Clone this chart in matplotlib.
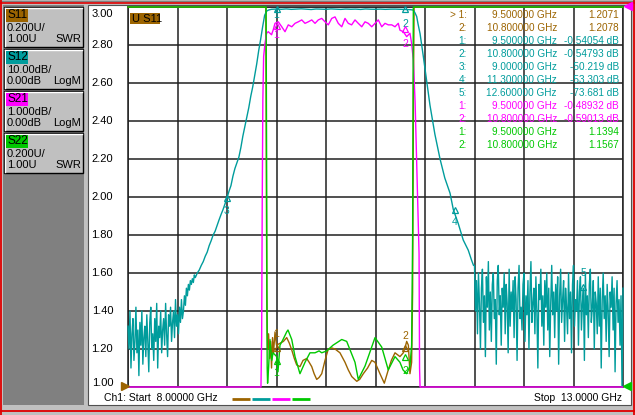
import numpy as np
import matplotlib
matplotlib.use('Agg')
import matplotlib.pyplot as plt
from matplotlib.patches import Rectangle
from matplotlib.lines import Line2D

plt.rcParams['font.family'] = ['Liberation Sans', 'DejaVu Sans']

# ---------------- data ----------------
F_START, F_STOP = 8.0, 13.0
grid_x = [8.0, 8.5, 9.0, 9.5, 10.0, 10.5, 11.0, 11.5, 12.0, 12.5, 13.0]
y_ticks = [3.00, 2.80, 2.60, 2.40, 2.20, 2.00, 1.80, 1.60, 1.40, 1.20, 1.00]

# S11 (SWR) : (GHz, SWR)   values above 3.00 are off-screen (clipped)
s11_points = [(8.00, 20), (9.385, 20), (9.392, 3.2), (9.398, 2.0), (9.402, 1.5), (9.406, 1.3),
              (9.41, 1.2), (9.42, 1.28), (9.43, 1.15), (9.44, 1.24), (9.45, 1.10), (9.46, 1.26),
              (9.47, 1.18), (9.485, 1.29), (9.50, 1.22), (9.535, 1.23), (9.57, 1.24), (9.603, 1.26),
              (9.63, 1.23), (9.654, 1.195), (9.68, 1.15), (9.704, 1.116), (9.737, 1.107), (9.768, 1.14),
              (9.805, 1.15), (9.83, 1.13), (9.856, 1.107), (9.88, 1.07), (9.906, 1.04), (9.93, 1.05),
              (9.957, 1.07), (9.990, 1.14), (10.023, 1.20), (10.06, 1.205), (10.091, 1.20), (10.141, 1.18),
              (10.192, 1.13), (10.225, 1.09), (10.26, 1.055), (10.29, 1.04), (10.311, 1.03), (10.34, 1.04),
              (10.377, 1.07), (10.42, 1.10), (10.462, 1.14), (10.495, 1.13), (10.545, 1.07), (10.589, 1.02),
              (10.629, 1.09), (10.66, 1.14), (10.697, 1.18), (10.747, 1.16), (10.781, 1.18), (10.80, 1.21),
              (10.815, 1.24), (10.832, 1.22), (10.848, 1.07), (10.865, 1.13), (10.875, 1.5), (10.884, 2.6),
              (10.89, 20), (13.00, 20)]

# S22 (SWR)
s22_points = [(8.00, 20), (9.385, 20), (9.395, 3.1), (9.400, 2.2), (9.403, 1.5), (9.406, 1.1),
              (9.41, 1.02), (9.42, 1.1), (9.434, 1.25), (9.452, 1.14), (9.465, 1.18), (9.502, 1.16),
              (9.515, 1.08), (9.535, 1.22), (9.566, 1.25), (9.603, 1.29), (9.616, 1.30), (9.654, 1.25),
              (9.687, 1.16), (9.737, 1.07), (9.788, 1.13), (9.838, 1.18), (9.889, 1.18), (9.93, 1.19),
              (9.957, 1.18), (10.007, 1.19), (10.071, 1.22), (10.159, 1.25), (10.209, 1.24), (10.293, 1.13),
              (10.326, 1.04), (10.394, 1.11), (10.495, 1.26), (10.563, 1.21), (10.629, 1.09), (10.697, 1.16),
              (10.747, 1.13), (10.778, 1.09), (10.815, 1.07), (10.848, 1.11), (10.865, 1.22), (10.875, 1.8),
              (10.882, 3.3), (10.89, 20), (13.00, 20)]

# S21 (LogM dB)
s21_points = [(8.00, -40), (9.33, -40), (9.343, -12), (9.35, -8.7), (9.356, -5.1), (9.362, -2.45),
              (9.37, -1.3), (9.384, -0.95), (9.40, -0.69), (9.417, -0.65), (9.45, -0.73), (9.467, -0.6),
              (9.485, -0.43), (9.518, -0.39), (9.553, -0.52), (9.586, -0.65), (9.619, -0.47), (9.654, -0.52),
              (9.687, -0.43), (9.720, -0.39), (9.755, -0.34), (9.788, -0.43), (9.821, -0.39), (9.856, -0.34),
              (9.889, -0.43), (9.922, -0.34), (9.957, -0.30), (9.990, -0.39), (10.023, -0.47), (10.058, -0.30),
              (10.091, -0.26), (10.124, -0.43), (10.159, -0.52), (10.192, -0.30), (10.225, -0.43), (10.259, -0.47),
              (10.293, -0.34), (10.326, -0.43), (10.361, -0.52), (10.394, -0.39), (10.427, -0.43), (10.462, -0.52),
              (10.495, -0.43), (10.528, -0.34), (10.563, -0.52), (10.596, -0.43), (10.629, -0.47), (10.664, -0.47),
              (10.697, -0.52), (10.730, -0.43), (10.747, -0.61), (10.781, -0.65), (10.815, -0.78), (10.848, -0.69),
              (10.865, -0.96), (10.882, -1.39), (10.90, -2.5), (10.92, -4.5), (10.94, -6.5), (10.945, -9.5),
              (10.95, -12), (10.96, -40), (13.00, -40)]

# S12 (LogM dB): low-side noise floor, 8.00 .. 8.55 GHz in 0.01 GHz steps
s12_noise_lo_db = [-84, -90, -80, -95, -86, -82, -93, -88, -79, -91,
                   -85, -97, -83, -89, -80, -94, -87, -84, -92, -81,
                   -88, -96, -83, -79, -90, -86, -93, -82, -88, -78,
                   -95, -84, -87, -80, -91, -85, -82, -89, -78, -86,
                   -92, -81, -84, -79, -88, -83, -80, -87, -77, -84,
                   -81, -86, -79, -83, -77, -82]
s12_skirt_lo = [(8.56, -80), (8.57, -76), (8.58, -78.5), (8.59, -74), (8.60, -76), (8.61, -73),
                (8.62, -74.5), (8.63, -72), (8.64, -73), (8.65, -71.5), (8.66, -72.5), (8.67, -70.5),
                (8.68, -71.2), (8.70, -70), (8.72, -69.2), (8.74, -68), (8.76, -67), (8.78, -65.6),
                (8.80, -64.5), (8.82, -62.8), (8.84, -61.5), (8.86, -60), (8.88, -59), (8.90, -57.5),
                (8.92, -56), (8.94, -54.6), (8.96, -53.3), (8.98, -51.8), (9.00, -50.2), (9.02, -48.5),
                (9.04, -47), (9.06, -44.5), (9.08, -42.5), (9.10, -41), (9.12, -39.5), (9.14, -37),
                (9.16, -34), (9.18, -31.5), (9.20, -29), (9.22, -26.5), (9.24, -23.5), (9.26, -21),
                (9.28, -18), (9.30, -15), (9.32, -11.5), (9.34, -8.5), (9.36, -5.2), (9.38, -2.2),
                (9.40, -1.1), (9.42, -0.8), (9.45, -0.6)]
# passband, 9.50 .. 10.85 GHz in 0.05 GHz steps
s12_band_db = [-0.54, -0.60, -0.50, -0.62, -0.55, -0.48, -0.58, -0.66, -0.52, -0.57,
               -0.61, -0.50, -0.56, -0.63, -0.53, -0.59, -0.55, -0.64, -0.51, -0.58,
               -0.60, -0.55, -0.62, -0.56, -0.55, -0.60, -0.65, -0.70]
s12_skirt_hi = [(10.882, -0.8), (10.90, -1.6), (10.916, -2.5), (10.93, -4.5), (10.95, -7), (10.983, -13),
                (11.02, -20), (11.05, -25.8), (11.10, -33.5), (11.152, -40), (11.20, -45), (11.253, -49),
                (11.286, -53.3), (11.336, -57), (11.386, -61.3), (11.437, -64), (11.47, -66.6), (11.49, -68)]
# high-side noise floor, 11.50 .. 13.00 GHz in 0.01 GHz steps
s12_noise_hi_db = [-68, -80, -72, -86, -70, -78, -90, -74, -69, -83,
                   -76, -92, -71, -79, -67, -85, -75, -88, -73, -70,
                   -82, -77, -94, -72, -68, -81, -76, -89, -74, -79,
                   -70, -86, -73, -78, -91, -69, -84, -75, -80, -72,
                   -87, -71, -77, -93, -74, -68, -82, -79, -85, -73,
                   -70, -88, -76, -81, -72, -90, -75, -67, -83, -78,
                   -74, -86, -71, -80, -95, -73, -77, -69, -84, -76,
                   -89, -72, -79, -70, -85, -74, -92, -78, -68, -81,
                   -75, -87, -73, -80, -71, -94, -76, -69, -83, -77,
                   -72, -88, -74, -79, -86, -70, -82, -75, -91, -73,
                   -68, -84, -77, -80, -72, -89, -75, -71, -85, -78,
                   -74, -93, -70, -81, -76, -87, -73, -69, -83, -79,
                   -72, -90, -75, -78, -86, -71, -84, -74, -95, -77,
                   -70, -82, -76, -88, -73, -80, -92, -75, -79, -71,
                   -85, -74, -96, -78, -72, -83, -77, -89, -76, -100,
                   -74]

# marker readouts
mk_s11 = [("1", 9.5, 1.2071), ("2", 10.8, 1.2078)]
mk_s12 = [("1", 9.5, -0.54054), ("2", 10.8, -0.54793), ("3", 9.0, -50.219),
          ("4", 11.3, -53.303), ("5", 12.6, -73.681)]
mk_s21 = [("1", 9.5, -0.48932), ("2", 10.8, -0.59013)]
mk_s22 = [("1", 9.5, 1.1394), ("2", 10.8, 1.1567)]

table_rows = [
    ("> 1:", "9.500000 GHz", "1.2071", "s11"),
    ("2:", "10.800000 GHz", "1.2078", "s11"),
    ("1:", "9.500000 GHz", "-0.54054 dB", "s12"),
    ("2:", "10.800000 GHz", "-0.54793 dB", "s12"),
    ("3:", "9.000000 GHz", "-50.219 dB", "s12"),
    ("4:", "11.300000 GHz", "-53.303 dB", "s12"),
    ("5:", "12.600000 GHz", "-73.681 dB", "s12"),
    ("1:", "9.500000 GHz", "-0.48932 dB", "s21"),
    ("2:", "10.800000 GHz", "-0.59013 dB", "s21"),
    ("1:", "9.500000 GHz", "1.1394", "s22"),
    ("2:", "10.800000 GHz", "1.1567", "s22"),
]

channels = [("S11", "0.200U/", "1.00U", "SWR", "s11"),
            ("S12", "10.00dB/", "0.00dB", "LogM", "s12"),
            ("S21", "1.000dB/", "0.00dB", "LogM", "s21"),
            ("S22", "0.200U/", "1.00U", "SWR", "s22")]

COL = {"s11": "#9c6400", "s12": "#009c9c", "s21": "#ff00ff", "s22": "#00c800"}

# ---------------- display scales ----------------
def swr_disp(v):
    return np.clip(np.asarray(v, float), 1.0, 3.0)

def db_disp(db, per_div):
    return np.clip(3.0 + np.asarray(db, float) / per_div * 0.2, 1.0, 3.0)

# ---------------- figure ----------------
W, H = 635, 415
fig = plt.figure(figsize=(W / 100, H / 100), dpi=100, facecolor='#c0c0c0')

def fx(x): return x / W
def fy(y): return 1 - y / H

def rect(x0, y0, x1, y1, fc, ec='none', lw=0, z=-5):
    r = Rectangle((fx(x0), fy(y1)), (x1 - x0) / W, (y1 - y0) / H, transform=fig.transFigure,
                  facecolor=fc, edgecolor=ec, linewidth=lw, zorder=z)
    fig.add_artist(r)

def hline(x0, x1, y, c, lw=1.0, z=-4):
    fig.add_artist(Line2D([fx(x0), fx(x1)], [fy(y), fy(y)], transform=fig.transFigure, color=c, lw=lw, zorder=z))

def vline(x, y0, y1, c, lw=1.0, z=-4):
    fig.add_artist(Line2D([fx(x), fx(x)], [fy(y0), fy(y1)], transform=fig.transFigure, color=c, lw=lw, zorder=z))

# window frame
hline(0, 635, 1.5, '#808080', 1.0)
hline(0, 635, 3.0, '#e00000', 1.2)
vline(0.7, 0, 415, '#e00000', 1.3)
vline(634, 0, 415, '#e00000', 1.3)
hline(0, 635, 410.5, '#e00000', 1.3)

# left panel
rect(3, 5, 84, 405, '#808080')
for i, (name, l1, l2, fmt, key) in enumerate(channels):
    top = 7 + 42 * i
    rect(4, top, 83, top + 40, '#c0c0c0', ec='#000000', lw=1.0, z=-4)
    hline(5, 82, top + 1.5, '#ffffff', 1.0, z=-3)
    vline(5.3, top + 1, top + 39, '#ffffff', 1.0, z=-3)
    rect(6, top + 2, 28, top + 15, COL[key], z=-2)
    fig.text(fx(7), fy(top + 8.5), name, fontsize=8.5, color='black', ha='left', va='center')
    fig.text(fx(7), fy(top + 21), l1, fontsize=8, color='black', ha='left', va='center')
    fig.text(fx(7), fy(top + 32), l2, fontsize=8, color='black', ha='left', va='center')
    fig.text(fx(81), fy(top + 32), fmt, fontsize=8, color='black', ha='right', va='center')

# white chart region
rect(88, 5, 631, 405, '#ffffff', ec='#505050', lw=0.8, z=-4)

# axes
ax = fig.add_axes([fx(128), fy(387), (623 - 128) / W, (387 - 7) / H])
ax.set_facecolor('white')
ax.set_xlim(F_START, F_STOP)
ax.set_ylim(1.0, 3.0)
ax.set_xticks(grid_x)
ax.set_yticks(y_ticks)
ax.tick_params(length=0, labelbottom=False, labelleft=False)
ax.grid(True, color='#202020', lw=1.1)
for s in ax.spines.values():
    s.set_color('#202020')
    s.set_linewidth(1.1)

# y labels
for v in y_ticks:
    va = 'center'
    off = 0
    if v == 3.00:
        off = -0.035
    if v == 1.00:
        off = 0.02
    ax.text(-0.03, v + off, f"{v:.2f}", transform=ax.get_yaxis_transform(), ha='right', va=va,
            fontsize=8, color='black', clip_on=False)

# traces
f11, v11 = zip(*s11_points)
f22, v22 = zip(*s22_points)
f21, d21 = zip(*s21_points)
f_lo = np.round(np.arange(len(s12_noise_lo_db)) * 0.01 + 8.00, 3)
f_band = np.round(np.arange(len(s12_band_db)) * 0.05 + 9.50, 3)
f_hi = np.round(np.arange(len(s12_noise_hi_db)) * 0.01 + 11.50, 3)
fsl, dsl = zip(*s12_skirt_lo)
fsh, dsh = zip(*s12_skirt_hi)
f12 = np.concatenate([f_lo, fsl, f_band, fsh, f_hi])
d12 = np.concatenate([s12_noise_lo_db, dsl, s12_band_db, dsh, s12_noise_hi_db])

lw = 1.0
ax.plot(f11, swr_disp(v11), color=COL['s11'], lw=lw, clip_on=False, zorder=3)
ax.plot(f12, db_disp(d12, 10.0), color=COL['s12'], lw=lw, clip_on=False, zorder=3.2)
ax.plot(f21, db_disp(d21, 1.0), color=COL['s21'], lw=lw, clip_on=False, zorder=3.4)
ax.plot(f22, swr_disp(v22), color=COL['s22'], lw=lw, clip_on=False, zorder=3.6)

# markers on traces
def draw_mk(lbl, f, v, color, dy):
    ax.plot([f], [v], marker='^', ms=5, mfc='none', mec=color, mew=0.9, clip_on=False, zorder=6)
    ax.annotate(lbl, (f, v), xytext=(0, -dy), textcoords='offset pixels', ha='center', va='center',
                fontsize=7.5, color=color, zorder=6, annotation_clip=False)

s11_dy = {"1": -14, "2": -12}
for lbl, f, v in mk_s11:
    draw_mk(lbl, f, float(swr_disp(v)), COL['s11'], s11_dy[lbl])
s12_dy = {"1": 6, "2": 15, "3": 13, "4": 12, "5": -14}
for lbl, f, v in mk_s12:
    draw_mk(lbl, f, float(db_disp(v, 10.0)), COL['s12'], s12_dy[lbl])
s21_dy = {"1": 9, "2": 15}
for lbl, f, v in mk_s21:
    draw_mk(lbl, f, float(db_disp(v, 1.0)), COL['s21'], s21_dy[lbl])
s22_dy = {"1": 12, "2": 14}
for lbl, f, v in mk_s22:
    draw_mk(lbl, f, float(swr_disp(v)), COL['s22'], s22_dy[lbl])

# trace title box
rect(130, 13, 160, 24, COL['s11'], z=5)
fig.text(fx(132), fy(18.5), "U S11", fontsize=8, color='black', ha='left', va='center', zorder=6)

# marker table
for i, (n, fr, val, key) in enumerate(table_rows):
    y = 15 + 13 * i
    fig.text(fx(467), fy(y), n, fontsize=7.2, color=COL[key], ha='right', va='center', zorder=7)
    fig.text(fx(557), fy(y), fr, fontsize=7.2, color=COL[key], ha='right', va='center', zorder=7)
    fig.text(fx(619), fy(y), val, fontsize=7.2, color=COL[key], ha='right', va='center', zorder=7)

# reference position triangles
fig.add_artist(Line2D([fx(124.5)], [fy(386)], marker='>', ms=6, color=COL['s11'], transform=fig.transFigure, zorder=8))
fig.add_artist(Line2D([fx(627)], [fy(386)], marker='<', ms=6, color=COL['s22'], transform=fig.transFigure, zorder=8))
fig.add_artist(Line2D([fx(627.5)], [fy(6)], marker='<', ms=6, color=COL['s21'], transform=fig.transFigure, zorder=8))

# bottom status line
fig.text(fx(104), fy(398), "Ch1: Start  8.00000 GHz", fontsize=7.5, color='black', ha='left', va='center')
for j, key in enumerate(['s11', 's12', 's21', 's22']):
    x0 = 232 + 20 * j
    fig.add_artist(Line2D([fx(x0), fx(x0 + 17.5)], [fy(398.5), fy(398.5)], transform=fig.transFigure,
                          color=COL[key], lw=2.0, solid_capstyle='butt'))
fig.text(fx(622), fy(398), "Stop  13.0000 GHz", fontsize=7.5, color='black', ha='right', va='center')

fig.savefig('out.png', dpi=100, facecolor=fig.get_facecolor())
